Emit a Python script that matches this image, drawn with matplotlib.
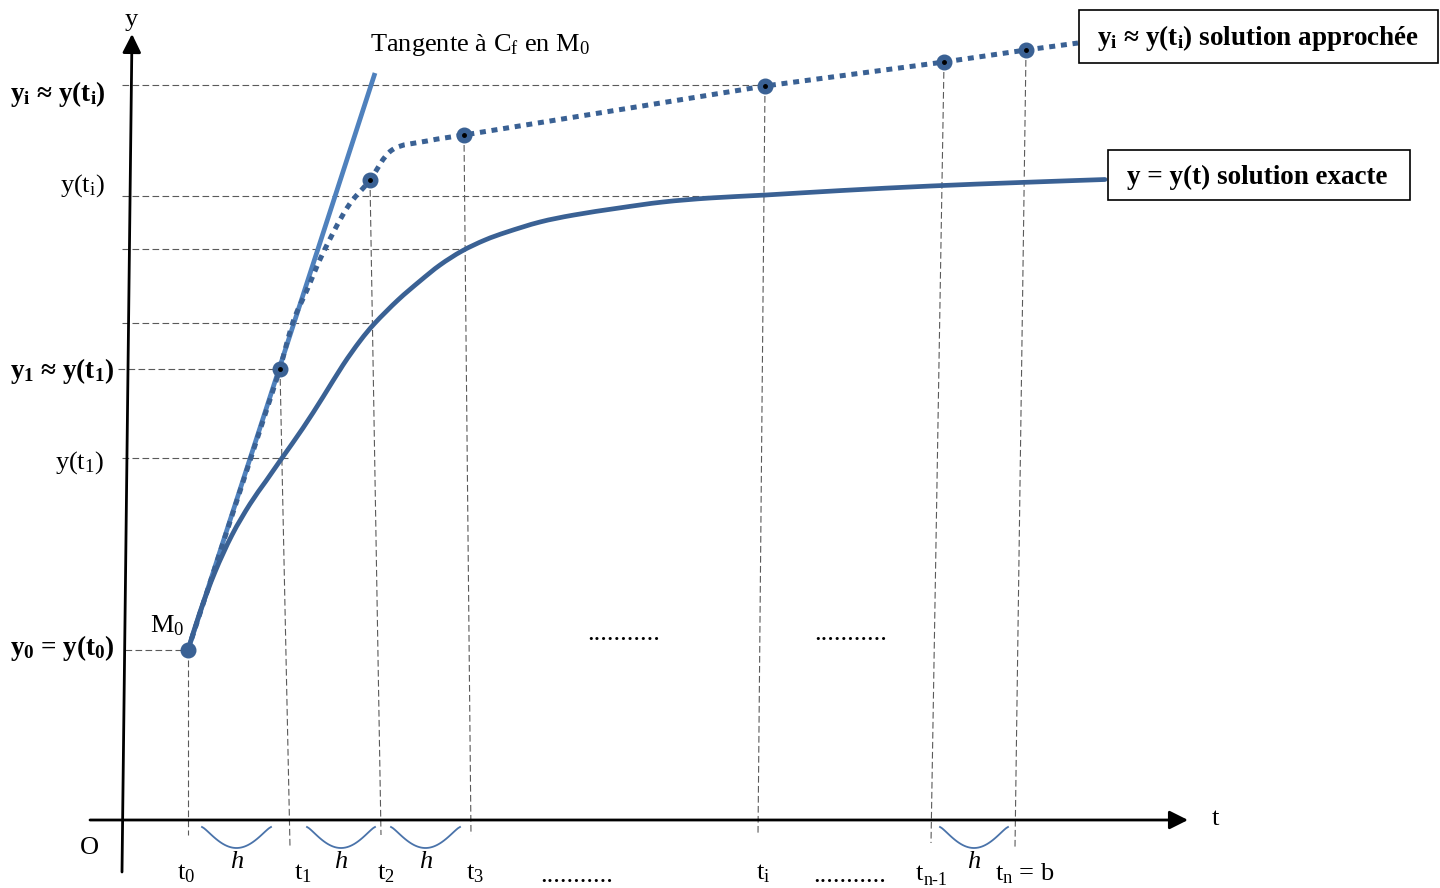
import numpy as np
import matplotlib
matplotlib.use("Agg")
import matplotlib.pyplot as plt
from matplotlib.patches import Rectangle, PathPatch
from matplotlib.path import Path

plt.rcParams['font.family'] = ['Liberation Serif', 'DejaVu Serif']
plt.rcParams['mathtext.fontset'] = 'custom'
plt.rcParams['mathtext.rm'] = 'Liberation Serif'
plt.rcParams['mathtext.it'] = 'Liberation Serif:italic'
plt.rcParams['mathtext.bf'] = 'Liberation Serif:bold'

# diagram coordinates (t to the right, y downwards like the picture)
t_nodes = [188, 280, 370, 464, 765, 944, 1026]
y_approx = [650, 369, 180, 135, 86, 62, 50]
t_foot = [188, 290, 381, 471, 758, 931, 1015]
foot_y = [835, 847, 835, 835, 835, 843, 847]

approx_t = [188, 280, 293, 307, 323, 347, 370, 392, 427, 464, 765, 944, 1026, 1078]
approx_y = [650, 369, 322, 290, 253, 208, 180, 150, 141, 135, 86, 62, 50, 43]

exact_t = [188, 200, 215, 232, 250, 266, 282, 303, 323, 343, 360, 375, 398, 420, 440, 462, 485, 507,
           540, 574, 619, 663, 710, 766, 842, 931, 1020, 1105]
exact_y = [650, 612, 572, 535, 504, 481, 458, 428, 397, 365, 341, 323, 300, 281, 265, 251, 240, 232,
           222, 215, 208, 202, 198, 195, 190.5, 186, 182.5, 179.5]

tangent_t = [188, 375]
tangent_y = [650, 73]

h_levels = [85, 196, 249, 323, 369, 458, 650]
h_start = [122, 122, 122, 122, 118, 122, 125]
h_end = [765, 766, 462, 375, 280, 288, 188]

arc_pairs = [(202, 271), (307, 375), (391, 460), (940, 1008)]

dark = '#3a6194'
light = '#4f81bd'
gray = '#5a5a5a'


def smooth_path(xs, ys, sharp=()):
    # cubic Bezier segments through the given points (Catmull-Rom tangents)
    p = np.column_stack([xs, ys]).astype(float)
    n = len(p)
    verts = [p[0]]
    codes = [Path.MOVETO]
    for i in range(n - 1):
        a = p[i - 1] if i > 0 and i not in sharp else p[i]
        d = p[i + 2] if i + 2 < n and (i + 1) not in sharp else p[i + 1]
        c1 = p[i] + (p[i + 1] - a) / 6
        c2 = p[i + 1] - (d - p[i]) / 6
        verts += [c1, c2, p[i + 1]]
        codes += [Path.CURVE4] * 3
    return Path(verts, codes)


fig = plt.figure(figsize=(14.4, 8.88), dpi=100)
ax = fig.add_axes([0, 0, 1, 1])
ax.set_xlim(0, 1440)
ax.set_ylim(888, 0)
ax.axis('off')

# guide lines
for y, x0, x1 in zip(h_levels, h_start, h_end):
    ax.plot([x0, x1], [y, y], color=gray, lw=0.8, dashes=(6, 3), zorder=1)
for tt, yy, tb, yb in zip(t_nodes, y_approx, t_foot, foot_y):
    ax.plot([tt, tb], [yy, yb], color=gray, lw=0.8, dashes=(6, 3), zorder=1)

# axes with arrows
ax.annotate('', xy=(1188, 820), xytext=(90, 820),
            arrowprops=dict(arrowstyle='-|>', lw=2, color='black', mutation_scale=28, shrinkA=0, shrinkB=0))
ax.annotate('', xy=(132, 34), xytext=(122, 872),
            arrowprops=dict(arrowstyle='-|>', lw=2, color='black', mutation_scale=28, shrinkA=0, shrinkB=0))

# curves
ax.plot(tangent_t, tangent_y, color=light, lw=3.4, solid_capstyle='butt', zorder=3)
ax.add_patch(PathPatch(smooth_path(exact_t, exact_y), fill=False, ec=dark, lw=3.4,
                       capstyle='round', zorder=4))
ax.add_patch(PathPatch(smooth_path(approx_t, approx_y, sharp=(1, 9, 10, 11, 12)), fill=False, ec=dark,
                       lw=3.6, linestyle=(0, (1.2, 1.15)), capstyle='butt', zorder=5))
ax.plot(t_nodes, y_approx, 'o', color=dark, ms=10.5, zorder=6)
ax.plot(t_nodes[1:], y_approx[1:], 'o', color='black', ms=2.5, zorder=7)

# step arcs
for a, b in arc_pairs:
    xs = np.linspace(a, b, 40)
    c, hw = (a + b) / 2, (b - a) / 2
    ys = 827 + 21 * (1 - ((xs - c) / hw) ** 2) ** 1.3
    ax.plot(xs, ys, color='#4a73aa', lw=1.3, zorder=2)

fs = 19
fb = 19.5
ax.text(131, 20, 'y', fontsize=fs, ha='center', va='center')
ax.text(1215, 819, 't', fontsize=fs, ha='center', va='center')
ax.text(89, 848, 'O', fontsize=fs, ha='center', va='center')
ax.text(167, 626, r'M$_0$', fontsize=fs, ha='center', va='center')
ax.text(370, 45, r'Tangente à C$_\mathrm{f}$ en M$_0$', fontsize=fs, ha='left', va='center')

# left labels
ax.text(10, 94, r'y$_\mathbf{i}$ ≈ y(t$_\mathbf{i}$)', fontsize=fb, fontweight='bold', ha='left', va='center')
ax.text(105, 186, r'y(t$_\mathrm{i}$)', fontsize=fs, ha='right', va='center')
ax.text(10, 371, r'y$_\mathbf{1}$ ≈ y(t$_\mathbf{1}$)', fontsize=fb, fontweight='bold', ha='left', va='center')
ax.text(104, 463, r'y(t$_1$)', fontsize=fs, ha='right', va='center')
ax.text(10, 648, r'y$_\mathbf{0}$ = y(t$_\mathbf{0}$)', fontsize=fb, fontweight='bold', ha='left', va='center')

# bottom labels
bottom_labels = [r't$_0$', r't$_1$', r't$_2$', r't$_3$', r't$_\mathrm{i}$', 't', r't$_\mathrm{n}$ = b']
bottom_x = [186, 303, 386, 475, 763, 919, 1025]
for lab, x in zip(bottom_labels, bottom_x):
    ax.text(x, 874, lab, fontsize=fs, ha='center', va='center')
ax.text(924, 880, 'n-1', fontsize=13, ha='left', va='center')
for a, b in arc_pairs:
    ax.text((a + b) / 2, 862, 'h', fontsize=fs, style='italic', ha='center', va='center')
for x, y in [(577, 876), (850, 876), (624, 634), (851, 634)]:
    ax.text(x, y, '...........', fontsize=fs, ha='center', va='center')

# legend boxes
ax.add_patch(Rectangle((1079, 10), 359, 53, fill=False, ec='black', lw=1.2, zorder=8))
ax.text(1258, 38, r'y$_\mathbf{i}$ ≈ y(t$_\mathbf{i}$) solution approchée', fontsize=fb,
        fontweight='bold', ha='center', va='center', zorder=9)
ax.add_patch(Rectangle((1108, 150), 302, 50, fill=False, ec='black', lw=1.2, zorder=8))
ax.text(1257, 177, 'y = y(t) solution exacte', fontsize=fb, fontweight='bold', ha='center', va='center', zorder=9)

fig.savefig('out.png', dpi=100)
